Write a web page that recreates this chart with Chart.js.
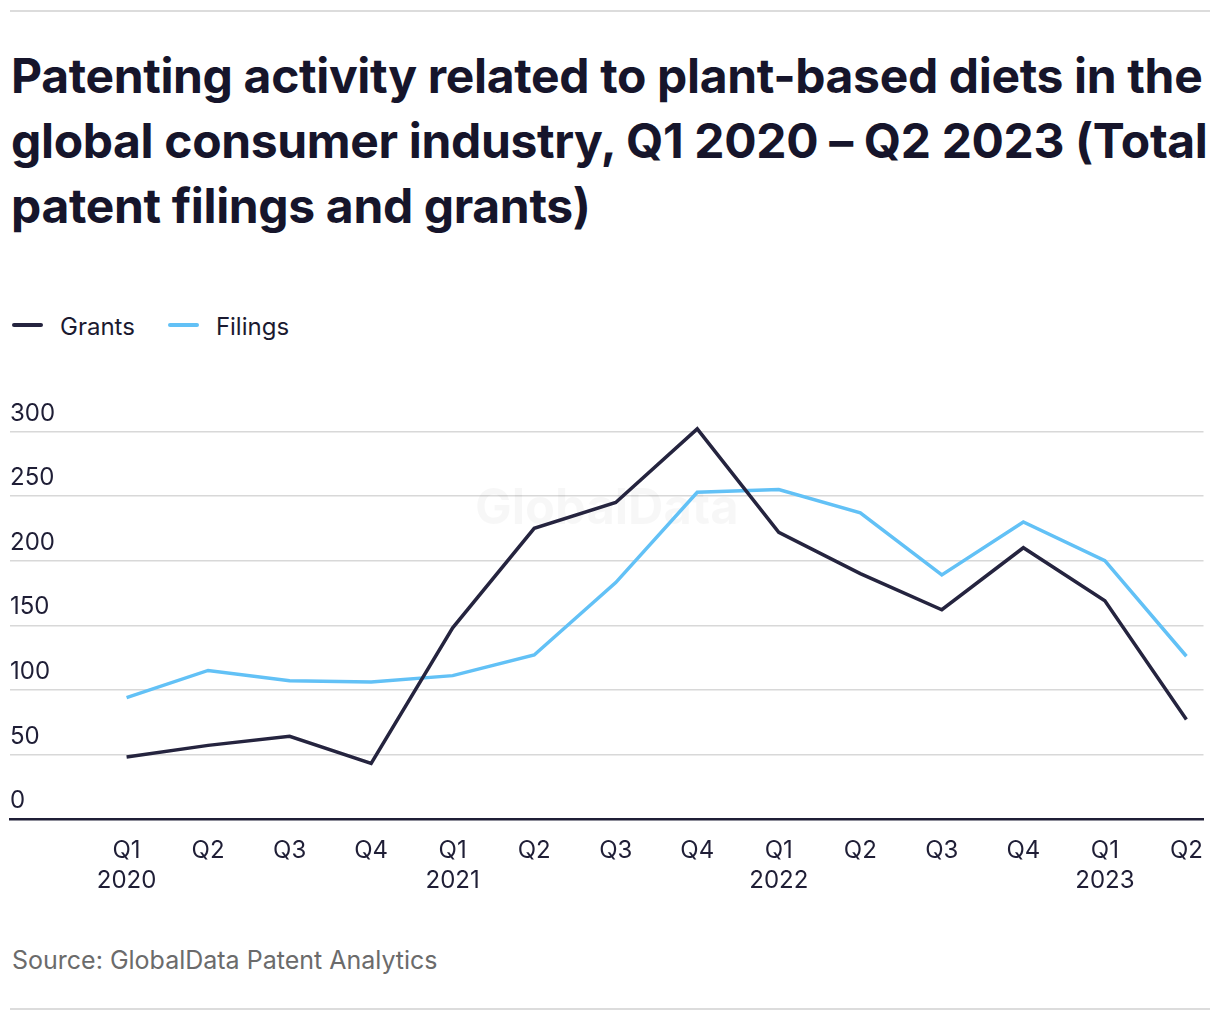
<!DOCTYPE html>
<html>
<head>
<meta charset="utf-8">
<script src="https://cdn.jsdelivr.net/npm/chart.js@4"></script>
<style>
  html, body { margin: 0; padding: 0; background: #fff; }
  body { width: 1220px; height: 1020px; position: relative; overflow: hidden; font-family: Inter, "Noto Sans", sans-serif; color: #1b1a30; }
  .rule { position: absolute; left: 10px; width: 1200px; height: 2px; background: #dcdcdc; }
  #title { position: absolute; left: 11px; top: 43px; margin: 0; font-size: 48px; line-height: 65px; font-weight: 700; color: #16152b; white-space: nowrap; letter-spacing: -0.35px; }
  #legend { position: absolute; left: 12px; top: 311px; display: flex; align-items: center; font-size: 24px; height: 30px; }
  .item { display: flex; align-items: center; margin-right: 33px; }
  .swatch { width: 31px; height: 4px; border-radius: 2px; margin-right: 17px; margin-top: -3px; }
  #wrap { position: absolute; left: 0; top: 380px; width: 1220px; height: 533px; }
  #source { position: absolute; left: 12px; top: 945px; font-size: 25px; color: #6b6b6b; }
</style>
</head>
<body>
<div class="rule" style="top:10px"></div>
<h1 id="title">Patenting activity related to plant-based diets in the<br>global consumer industry, Q1 2020 – Q2 2023 (Total<br>patent filings and grants)</h1>
<div id="legend"></div>
<div id="wrap"><canvas id="patentChart"></canvas></div>
<div id="source">Source: GlobalData Patent Analytics</div>
<div class="rule" style="top:1008px"></div>

<script>
var quarters = ["Q1", "Q2", "Q3", "Q4", "Q1", "Q2", "Q3", "Q4", "Q1", "Q2", "Q3", "Q4", "Q1", "Q2"];
var years = ["2020", "", "", "", "2021", "", "", "", "2022", "", "", "", "2023", ""];
var grants = [48, 57, 64, 43, 148, 225, 245, 302, 222, 190, 162, 210, 169, 77];
var filings = [94, 115, 107, 106, 111, 127, 183, 253, 255, 237, 189, 230, 200, 126];
var yTicks = [0, 50, 100, 150, 200, 250, 300];

var ink = "#1f1e36";

function points(values) {
    return values.map(function (v, i) {
        return { x: i, y: v };
    });
}

var watermark = {
    id: "watermark",
    beforeDatasetsDraw: function (chart) {
        var ctx = chart.ctx;
        var area = chart.chartArea;
        ctx.save();
        ctx.font = "700 49px Inter, sans-serif";
        ctx.fillStyle = "rgba(0, 0, 0, 0.03)";
        ctx.textAlign = "center";
        ctx.textBaseline = "middle";
        ctx.fillText("GlobalData", (area.left + area.right) / 2, area.top + 78);
        ctx.restore();
    },
};

var patentCtx = document.getElementById("patentChart").getContext("2d");

var patentChart = new Chart(patentCtx, {
    type: "line",
    data: {
        datasets: [
            {
                label: "Grants",
                data: points(grants),
                borderColor: "#25243f",
                backgroundColor: "#25243f",
                borderWidth: 3.5,
                pointRadius: 0,
                tension: 0,
                clip: 8,
            },
            {
                label: "Filings",
                data: points(filings),
                borderColor: "#62c1f6",
                backgroundColor: "#62c1f6",
                borderWidth: 3.5,
                pointRadius: 0,
                tension: 0,
                clip: 8,
            },
        ],
    },
    options: {
        responsive: true,
        maintainAspectRatio: false,
        animation: false,
        layout: {
            padding: { left: 10, right: 8, top: 51.5, bottom: 0 },
        },
        scales: {
            x: {
                type: "linear",
                min: -1.43,
                max: 13.21,
                afterBuildTicks: function (scale) {
                    scale.ticks = quarters.map(function (q, i) {
                        return { value: i };
                    });
                },
                grid: { display: false, drawTicks: false },
                border: { display: true, color: ink, width: 2.5 },
                ticks: {
                    padding: 17,
                    maxRotation: 0,
                    autoSkip: false,
                    color: ink,
                    font: { family: "Inter", size: 24, lineHeight: 1.25 },
                    callback: function (value) {
                        var i = Math.round(value);
                        return years[i] ? [quarters[i], years[i]] : quarters[i];
                    },
                },
            },
            y: {
                min: 0,
                max: 300,
                afterBuildTicks: function (scale) {
                    scale.ticks = yTicks.map(function (v) {
                        return { value: v };
                    });
                },
                grid: {
                    drawTicks: false,
                    lineWidth: 1.5,
                    color: function (c) {
                        return c.tick && c.tick.value === 0 ? "rgba(0,0,0,0)" : "#d8d8d8";
                    },
                },
                border: { display: false },
                ticks: {
                    mirror: true,
                    padding: 0,
                    labelOffset: -18,
                    color: ink,
                    font: { family: "Inter", size: 24 },
                },
            },
        },
        plugins: {
            legend: { display: false },
            tooltip: { enabled: false },
        },
    },
    plugins: [watermark],
});

var legendBox = document.getElementById("legend");
patentChart.data.datasets.forEach(function (ds) {
    var item = document.createElement("div");
    item.className = "item";
    var sw = document.createElement("span");
    sw.className = "swatch";
    sw.style.background = ds.borderColor;
    var txt = document.createElement("span");
    txt.textContent = ds.label;
    item.appendChild(sw);
    item.appendChild(txt);
    legendBox.appendChild(item);
});
</script>
</body>
</html>
